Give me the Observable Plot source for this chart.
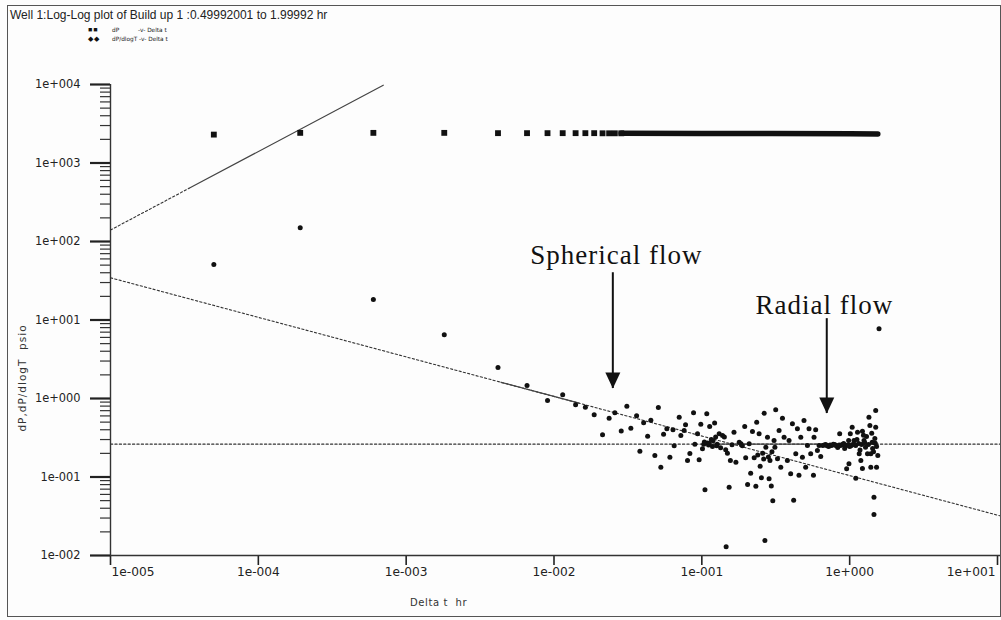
<!DOCTYPE html>
<html>
<head>
<meta charset="utf-8">
<script src="https://cdn.jsdelivr.net/npm/d3@7"></script>
<script src="https://cdn.jsdelivr.net/npm/@observablehq/plot@0.6"></script>
<style>
  html, body { margin: 0; padding: 0; background: #fdfdfd; }
  #wrap { position: relative; width: 1001px; height: 620px; overflow: hidden; font-family: "Liberation Sans", Arial, sans-serif; color: #222; }
  #wrap svg { position: absolute; left: 0; top: 0; }
  #frame { position: absolute; left: 7px; top: 5px; width: 994px; height: 612px; border: 1.5px solid #555; box-sizing: border-box; pointer-events: none; }
  #title { position: absolute; left: 10px; top: 8px; font-size: 12px; white-space: nowrap; }
  .leg { position: absolute; font-family: "DejaVu Sans", sans-serif; font-size: 5.8px; white-space: nowrap; color: #222; }
  .legm { position: absolute; font-size: 7px; white-space: nowrap; color: #111; letter-spacing: 1px; }
  #ytitle { position: absolute; left: 22px; top: 378px; transform: translate(-50%, -50%) rotate(-90deg); font-family: "DejaVu Sans", sans-serif; font-size: 10.5px; letter-spacing: 1px; white-space: pre; color: #333; }
  #xtitle { position: absolute; left: 410px; top: 597px; font-family: "DejaVu Sans", sans-serif; font-size: 10px; letter-spacing: 0.6px; white-space: pre; color: #333; }
</style>
</head>
<body>
<div id="wrap">
  <div id="chart"></div>
  <div id="title"></div>
  <div class="legm" style="left:88px;top:26px">■■</div>
  <div class="leg" style="left:112px;top:27px">dP</div>
  <div class="leg" style="left:138px;top:27px">-v- Delta t</div>
  <div class="legm" style="left:88px;top:35px">◆◆</div>
  <div class="leg" style="left:112px;top:36px">dP/dlogT -v- Delta t</div>
  <div id="ytitle"></div>
  <div id="xtitle"></div>
  <div id="frame"></div>
</div>
<script>
// ---------- texts ----------
const titleText = "Well 1:Log-Log plot of Build up 1 :0.49992001 to 1.99992 hr";
const yTitle = "dP,dP/dlogT  psio";
const xTitle = "Delta t  hr";
const annotationLabels = ["Spherical flow", "Radial flow"];

// ---------- ticks ----------
const xTicks = [1e-5, 1e-4, 1e-3, 1e-2, 1e-1, 1, 10];
const xTickLabels = ["1e-005", "1e-004", "1e-003", "1e-002", "1e-001", "1e+000", "1e+001"];
const yTicks = [1e-2, 1e-1, 1, 10, 100, 1000, 10000];
const yTickLabels = ["1e-002", "1e-001", "1e+000", "1e+001", "1e+002", "1e+003", "1e+004"];
const yMinorMultipliers = [2, 3, 4, 5, 6, 7, 8, 9];

// ---------- dP (squares) ----------
const dpTime  = [5.0e-5, 1.92e-4, 6.0e-4, 1.81e-3, 4.18e-3, 6.57e-3, 9.04e-3, 1.145e-2, 1.40e-2, 1.63e-2, 1.87e-2, 2.13e-2, 2.36e-2, 2.58e-2, 2.85e-2];
const dpValue = [2300, 2420, 2420, 2420, 2400, 2400, 2400, 2400, 2400, 2400, 2400, 2390, 2390, 2390, 2390];
// dense continuous part of dP (markers merge into a band)
const dpBandTime  = [2.85e-2, 0.1, 0.3, 1.0, 1.55];
const dpBandValue = [2390, 2380, 2370, 2350, 2340];

// ---------- dP/dlogT (dots) ----------
const derivTime = [
  5.0e-5, 1.92e-4, 6.0e-4, 1.81e-3, 4.18e-3, 6.57e-3, 9.04e-3, 1.145e-2, 1.40e-2, 1.63e-2,
  1.87e-2, 2.13e-2, 2.36e-2, 2.58e-2, 2.85e-2, 3.11e-2, 3.31e-2, 3.62e-2, 3.81e-2, 4.04e-2,
  4.30e-2, 4.52e-2, 4.81e-2, 5.08e-2, 5.28e-2, 5.51e-2, 5.80e-2, 6.08e-2, 6.38e-2, 6.50e-2,
  7.03e-2, 7.21e-2, 7.59e-2, 7.76e-2, 8.00e-2, 8.30e-2, 8.79e-2, 8.97e-2, 9.35e-2, 9.59e-2,
  9.84e-2, 0.101, 0.103, 0.105, 0.108, 0.109, 0.111, 0.113, 0.116, 0.118,
  0.122, 0.124, 0.127, 0.131, 0.134, 0.138, 0.142, 0.145, 0.146, 0.149,
  0.153, 0.156, 0.160, 0.165, 0.170, 0.179, 0.184, 0.188, 0.195, 0.198,
  0.204, 0.209, 0.214, 0.220, 0.226, 0.232, 0.235, 0.244, 0.248, 0.253,
  0.264, 0.267, 0.271, 0.278, 0.285, 0.289, 0.295, 0.302, 0.308, 0.316,
  0.325, 0.333, 0.342, 0.351, 0.360, 0.379, 0.389, 0.399, 0.410, 0.418,
  0.432, 0.443, 0.454, 0.467, 0.479, 0.491, 0.504, 0.518, 0.531, 0.545,
  0.569, 0.574, 0.589, 0.605, 0.621, 0.637, 0.657, 0.688, 0.721, 0.756,
  0.792, 0.830, 0.856, 0.869, 0.911, 0.925, 0.954, 0.954, 0.984, 0.989,
  1.0, 1.01, 1.04, 1.048, 1.07, 1.098, 1.10, 1.13, 1.15, 1.16,
  1.19, 1.205, 1.22, 1.22, 1.25, 1.263, 1.28, 1.30, 1.32, 1.35,
  1.37, 1.39, 1.39, 1.42, 1.43, 1.46, 1.46, 1.48, 1.50, 1.50,
  1.52, 1.52, 1.55, 1.58,
  0.104, 0.112, 0.119, 0.126, 0.239, 0.258, 0.262, 0.282, 0.298, 0.312,
  0.672, 0.704, 0.738, 0.774, 0.811, 0.850, 0.890, 0.930, 0.977, 1.02,
  1.075, 1.12, 1.175, 1.24, 1.34, 1.41, 1.45, 1.49
];
const derivValue = [
  51, 150, 18.2, 6.5, 2.48, 1.46, 0.94, 1.12, 0.83, 0.775,
  0.62, 0.345, 0.561, 0.657, 0.386, 0.796, 0.419, 0.602, 0.213, 0.49,
  0.331, 0.528, 0.188, 0.768, 0.133, 0.351, 0.411, 0.179, 0.399, 0.25,
  0.576, 0.338, 0.391, 0.462, 0.162, 0.199, 0.659, 0.262, 0.355, 0.166,
  0.471, 0.229, 0.262, 0.0687, 0.638, 0.271, 0.255, 0.44, 0.30, 0.245,
  0.488, 0.323, 0.262, 0.355, 0.235, 0.338, 0.323, 0.222, 0.0129, 0.201,
  0.0741, 0.162, 0.258, 0.372, 0.154, 0.278, 0.265, 0.25, 0.44, 0.176,
  0.0802, 0.265, 0.112, 0.38, 0.176, 0.0764, 0.499, 0.355, 0.137, 0.0977,
  0.65, 0.0155, 0.24, 0.321, 0.0948, 0.162, 0.0768, 0.0498, 0.292, 0.718,
  0.171, 0.391, 0.133, 0.561, 0.321, 0.162, 0.292, 0.110, 0.476, 0.0505,
  0.198, 0.411, 0.105, 0.321, 0.179, 0.525, 0.133, 0.252, 0.411, 0.198,
  0.105, 0.321, 0.399, 0.218, 0.252, 0.182, 0.252, 0.259, 0.245, 0.252,
  0.259, 0.238, 0.355, 0.252, 0.267, 0.231, 0.252, 0.127, 0.292, 0.147,
  0.245, 0.355, 0.431, 0.259, 0.292, 0.252, 0.0966, 0.372, 0.267, 0.198,
  0.162, 0.259, 0.383, 0.128, 0.292, 0.275, 0.24, 0.328, 0.198, 0.578,
  0.453, 0.133, 0.198, 0.278, 0.231, 0.0553, 0.0333, 0.309, 0.703, 0.431,
  0.133, 0.245, 0.188, 7.73,
  0.28, 0.27, 0.29, 0.25, 0.19, 0.20, 0.17, 0.18, 0.21, 0.24,
  0.255, 0.25, 0.255, 0.262, 0.25, 0.255, 0.26, 0.25, 0.258, 0.25,
  0.262, 0.30, 0.22, 0.34, 0.26, 0.36, 0.21, 0.27
];

// ---------- interpretation lines ----------
const storageDottedTime = [1e-5, 3.4e-5];
const storageDottedValue = [140, 476];
const storageSolidTime = [3.4e-5, 7.0e-4];
const storageSolidValue = [476, 9800];
const sphericalDottedTime = [1e-5, 10.6];
const sphericalDottedValue = [34.5, 0.0317];
const sphericalSolidTime = [4.38e-3, 1.48e-2];
const sphericalSolidValue = [1.61, 0.871];
const radialDottedTime = [1e-5, 10.7];
const radialDottedValue = [0.262, 0.262];
const radialSolidTime = [0.11, 1.5];
const radialSolidValue = [0.262, 0.262];

// ---------- annotations ----------
const annotationTime = [6.9e-3, 0.231];
const annotationValue = [66, 15.3];
const arrowTime = [0.025, 0.70];
const arrowTopValue = [40, 10.4];
const arrowTipValue = [1.34, 0.644];

// ---------- build tables ----------
const zip = (t, v) => t.map((d, i) => ({t: d, v: v[i]}));
const dpPts = zip(dpTime, dpValue);
const dpBand = zip(dpBandTime, dpBandValue);
const derivPts = zip(derivTime, derivValue);
const yMinorTicks = yTicks.slice(0, -1).flatMap(d => yMinorMultipliers.map(m => d * m));
const xLab = xTicks.map((d, i) => ({t: d, label: xTickLabels[i]}));
const yLab = yTicks.map((d, i) => ({v: d, label: yTickLabels[i]}));
const annots = annotationLabels.map((s, i) => ({t: annotationTime[i], v: annotationValue[i], s}));
const arrows = arrowTime.map((t, i) => ({t, top: arrowTopValue[i], tip: arrowTipValue[i]}));

const arrowHead = {
  draw(context) {
    context.moveTo(0, 0);
    context.lineTo(-7.5, -16);
    context.lineTo(7.5, -16);
    context.closePath();
  }
};

const ink = "#222";
const dash = "2.2,2.2";
const tickFont = "DejaVu Sans, sans-serif";

const chart = Plot.plot({
  width: 1001,
  height: 620,
  marginLeft: 110,
  marginRight: 4,
  marginTop: 84,
  marginBottom: 65,
  style: {background: "transparent", fontFamily: tickFont, fontSize: "10.5px", color: "#222", overflow: "visible"},
  x: {type: "log", domain: [1e-5, 10]},
  y: {type: "log", domain: [1e-2, 1e4]},
  marks: [
    // axes
    Plot.axisY({ticks: yMinorTicks, tickSize: 10, tickFormat: () => "", label: null, stroke: "#333", strokeWidth: 1.2}),
    Plot.axisY({ticks: yTicks, tickSize: 20, tickFormat: () => "", label: null, stroke: ink, strokeWidth: 2.2}),
    Plot.axisX({ticks: xTicks, tickSize: 10, tickFormat: () => "", label: null, stroke: ink, strokeWidth: 1.6}),
    Plot.ruleX([1e-5], {y1: 1e-2, y2: 1e4, stroke: "#333", strokeWidth: 1.4}),
    Plot.ruleY([1e-2], {x1: 1e-5, x2: 10.7, stroke: "#333", strokeWidth: 1.4}),
    Plot.text(yLab, {y: "v", text: "label", frameAnchor: "left", textAnchor: "end", lineAnchor: "middle", dx: -30, fontSize: 11.4, fill: "#222"}),
    Plot.text(xLab.slice(1, -1), {x: "t", text: "label", frameAnchor: "bottom", lineAnchor: "top", dy: 12, textAnchor: "middle", fontSize: 12.2, fill: "#222"}),
    Plot.text(xLab.slice(0, 1), {x: "t", text: "label", frameAnchor: "bottom", lineAnchor: "top", dy: 12, dx: 1, textAnchor: "start", fontSize: 12.2, fill: "#222"}),
    Plot.text(xLab.slice(-1), {x: "t", text: "label", frameAnchor: "bottom", lineAnchor: "top", dy: 12, dx: -2, textAnchor: "end", fontSize: 12.2, fill: "#222"}),

    // interpretation lines
    Plot.line(zip(storageDottedTime, storageDottedValue), {x: "t", y: "v", stroke: "#333", strokeWidth: 1.1, strokeDasharray: dash}),
    Plot.line(zip(storageSolidTime, storageSolidValue), {x: "t", y: "v", stroke: "#444", strokeWidth: 1.2}),
    Plot.line(zip(sphericalDottedTime, sphericalDottedValue), {x: "t", y: "v", stroke: "#333", strokeWidth: 1.1, strokeDasharray: dash}),
    Plot.line(zip(sphericalSolidTime, sphericalSolidValue), {x: "t", y: "v", stroke: "#444", strokeWidth: 1.3}),
    Plot.line(zip(radialDottedTime, radialDottedValue), {x: "t", y: "v", stroke: "#333", strokeWidth: 1.1, strokeDasharray: dash}),
    Plot.line(zip(radialSolidTime, radialSolidValue), {x: "t", y: "v", stroke: "#444", strokeWidth: 1.3}),

    // data
    Plot.line(dpBand, {x: "t", y: "v", stroke: "#111", strokeWidth: 5.5}),
    Plot.dot(dpPts, {x: "t", y: "v", symbol: "square", r: 3.3, fill: "#111", stroke: "none"}),
    Plot.dot(derivPts, {x: "t", y: "v", r: 2.5, fill: "#111", stroke: "none"}),

    // annotations
    Plot.text(annots, {x: "t", y: "v", text: "s", textAnchor: "start", lineAnchor: "middle", fontFamily: "Liberation Serif, Times New Roman, serif", fontSize: 27, fill: "#111"}),
    Plot.ruleX(arrows, {x: "t", y1: "top", y2: "tip", stroke: "#111", strokeWidth: 2}),
    Plot.dot(arrows, {x: "t", y: "tip", symbol: arrowHead, fill: "#111", stroke: "none", r: 5})
  ]
});
document.getElementById("chart").appendChild(chart);
document.getElementById("title").textContent = titleText;
document.getElementById("ytitle").textContent = yTitle;
document.getElementById("xtitle").textContent = xTitle;

// the annotations in the reference are slightly letter-spaced
d3.select(chart).selectAll("text").each(function () {
  if (annotationLabels.includes(this.textContent)) this.style.letterSpacing = "1px";
});
</script>
</body>
</html>
